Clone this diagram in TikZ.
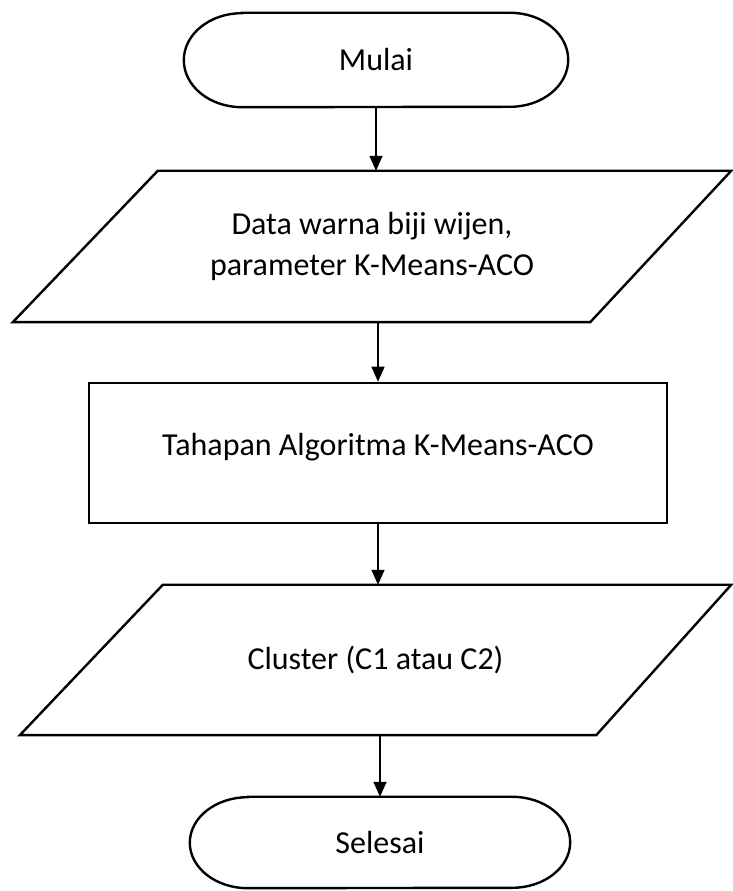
\documentclass[tikz,border=0pt]{standalone}
\usepackage{fontspec}
\setmainfont{Carlito}
\usetikzlibrary{arrows.meta}
\begin{document}
\begin{tikzpicture}[x=1pt,y=1pt,
  lbl/.style={font=\fontsize{32}{41}\selectfont, inner sep=0pt, align=center},
  term/.style={lbl, draw=none, minimum width=384pt, minimum height=94pt},
  para/.style={lbl, draw=none, minimum height=151pt},
  procbox/.style={lbl, draw, line width=2.6pt, minimum width=578pt, minimum height=140pt, text depth=18pt},
  shp/.style={draw, line width=2.4pt, line join=miter},
  arr/.style={draw, line width=1.5pt, -{Triangle[length=15pt,width=13pt]}}
]
\fill[white] (0,0) rectangle (732,891);
\path[use as bounding box] (0,0) rectangle (732,891);

% Mulai
\node[term] (m) at (376,831) {Mulai};
\draw[shp] ([xshift=58pt]m.north west) -- ([xshift=-58pt]m.north east)
  arc[start angle=90,end angle=-90,x radius=58pt,y radius=47pt]
  -- ([xshift=58pt]m.south west)
  arc[start angle=270,end angle=90,x radius=58pt,y radius=47pt] -- cycle;

% Input parallelogram
\node[para, minimum width=718pt] (p1) at (372,644.5) {Data warna biji wijen,\\parameter K-Means-ACO};
\draw[shp] ([xshift=145pt]p1.north west) -- (p1.north east)
  -- ([xshift=-141pt]p1.south east) -- (p1.south west) -- cycle;

% Process
\node[procbox] (r) at (378,438) {Tahapan Algoritma K-Means-ACO};

% Output parallelogram
\node[para, minimum width=711pt, minimum height=150pt] (p2) at (375.5,231) {Cluster (C1 atau C2)};
\draw[shp] ([xshift=143pt]p2.north west) -- (p2.north east)
  -- ([xshift=-135pt]p2.south east) -- (p2.south west) -- cycle;

% Selesai
\node[term, minimum width=380pt, minimum height=91pt] (s) at (380,48.5) {Selesai};
\draw[shp] ([xshift=58pt]s.north west) -- ([xshift=-58pt]s.north east)
  arc[start angle=90,end angle=-90,x radius=58pt,y radius=45.5pt]
  -- ([xshift=58pt]s.south west)
  arc[start angle=270,end angle=90,x radius=58pt,y radius=45.5pt] -- cycle;

% Connectors
\draw[arr] (m.south) -- (m.south |- p1.north);
\draw[arr] (p1.south -| r.north) -- (r.north);
\draw[arr] (r.south) -- (r.south |- p2.north);
\draw[arr] (p2.south -| s.north) -- (s.north);
\end{tikzpicture}
\end{document}
